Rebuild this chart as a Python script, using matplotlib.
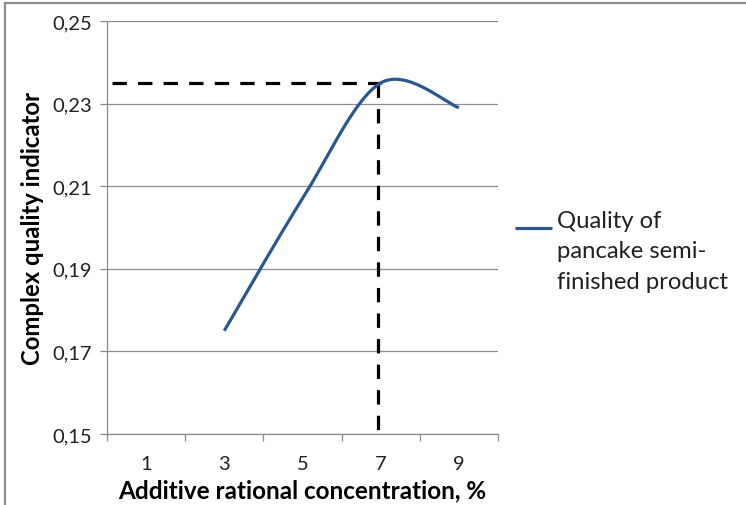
import numpy as np
import matplotlib
matplotlib.use("Agg")
import matplotlib.pyplot as plt
from matplotlib.lines import Line2D
from matplotlib.ticker import FuncFormatter

plt.rcParams['font.family'] = ['Lato', 'DejaVu Sans']

# concentration of additive, % (category axis) and complex quality indicator
concentration = [1, 3, 5, 7, 9]
quality = [np.nan, 0.175, 0.207, 0.235, 0.229]
optimum_conc = 7
series_label = "Quality of\npancake semi-\nfinished product"

y_ticks = [0.15, 0.17, 0.19, 0.21, 0.23, 0.25]

W, H = 746, 506
LINE_COLOR = '#2b5790'
GRID_COLOR = '#8c8c8c'


def smooth_curve(xs, ys, n=60):
    # Excel-like smoothed line: cubic Bezier segments with Catmull-Rom tangents
    pts = np.column_stack([xs, ys])
    out = []
    for i in range(len(pts) - 1):
        p0, p3 = pts[i], pts[i + 1]
        prev = pts[i - 1] if i > 0 else pts[i]
        nxt = pts[i + 2] if i + 2 < len(pts) else pts[i + 1]
        c1 = p0 + (p3 - prev) / 6.0
        c2 = p3 - (nxt - p0) / 6.0
        t = np.linspace(0, 1, n)[:, None]
        seg = ((1 - t) ** 3) * p0 + 3 * ((1 - t) ** 2) * t * c1 \
            + 3 * (1 - t) * t ** 2 * c2 + t ** 3 * p3
        out.append(seg if i == 0 else seg[1:])
    return np.vstack(out)


fig = plt.figure(figsize=(W / 100, H / 100), dpi=100)
ax = fig.add_axes([107 / W, 1 - 435 / H, (498 - 107) / W, (435 - 22) / H])

idx = np.arange(len(concentration))
q = np.array(quality)
valid = ~np.isnan(q)
curve = smooth_curve(idx[valid].astype(float), q[valid])

ax.set_xlim(-0.5, len(concentration) - 0.5)
ax.set_ylim(y_ticks[0], y_ticks[-1])

# dashed guide lines to the optimum point
k = concentration.index(optimum_conc)
x0 = ax.get_xlim()[0] + 0.07
ax.plot([x0, k], [quality[k], quality[k]], color='black', lw=2.3,
        dashes=(4.5, 3.5), zorder=3)
ax.plot([k - 0.04, k - 0.04], [quality[k], y_ticks[0]], color='black', lw=2.3,
        dashes=(4.5, 3.5), zorder=3)

ax.plot(curve[:, 0], curve[:, 1], color=LINE_COLOR, lw=2.3,
        solid_capstyle='butt', zorder=4)

# axes styling
ax.set_yticks(y_ticks)
ax.yaxis.set_major_formatter(FuncFormatter(lambda v, p: f"{v:.2f}".replace('.', ',')))
ax.yaxis.grid(True, color=GRID_COLOR, lw=0.9)
ax.set_axisbelow(True)

ax.set_xticks(np.arange(-0.5, len(concentration)), labels=[])
ax.set_xticks(idx, labels=[str(c) for c in concentration], minor=True)
ax.tick_params(axis='x', which='major', length=5, color=GRID_COLOR, width=0.9)
ax.tick_params(axis='x', which='minor', length=0, pad=15, labelsize=14.5,
               labelcolor='#222222')
ax.tick_params(axis='y', length=5, color=GRID_COLOR, width=0.9, pad=6,
               labelsize=14.5, labelcolor='#222222')

for side in ['top', 'right']:
    ax.spines[side].set_visible(False)
for side in ['left', 'bottom']:
    ax.spines[side].set_color(GRID_COLOR)
    ax.spines[side].set_linewidth(0.9)

ax.set_xlabel("Additive rational concentration, %", fontsize=17.5, fontweight='bold',
              labelpad=5)
ax.set_ylabel("Complex quality indicator", fontsize=17.2, fontweight='bold',
              labelpad=6)

# legend: line sample next to the first line of the wrapped label
fig.add_artist(Line2D([515 / W, 552 / W], [1 - 229 / H, 1 - 229 / H],
                      transform=fig.transFigure, color=LINE_COLOR, lw=2.3,
                      solid_capstyle='butt'))
fig.text(557 / W, 1 - 252 / H, series_label, ha='left', va='center',
         fontsize=17.2, linespacing=1.55, color='#222222')

# chart frame edges
fig.add_artist(Line2D([5 / W, 5 / W], [0, 1 - 4 / H],
                      transform=fig.transFigure, color=GRID_COLOR, lw=1.6))
fig.add_artist(Line2D([5 / W, 1], [1 - 4 / H, 1 - 4 / H],
                      transform=fig.transFigure, color=GRID_COLOR, lw=1.6))

fig.savefig("out.png", dpi=100)
